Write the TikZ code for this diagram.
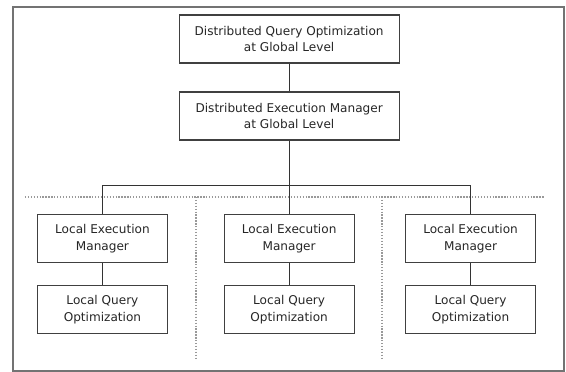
\documentclass[tikz,border=0pt]{standalone}
\usepackage{fontspec}
\setmainfont{DejaVu Sans}
\usetikzlibrary{positioning}

\begin{document}
\begin{tikzpicture}[
  box/.style={rectangle, draw=black!75, line width=0.9pt, fill=white, align=center,
    minimum width=3.44cm, minimum height=1.27cm, inner sep=2pt, text=black!85,
    font=\fontsize{9.1}{12.6}\selectfont},
  gbox/.style={box, minimum width=5.82cm},
  link/.style={draw=black!80, line width=0.8pt},
  sep/.style={draw=black!40, line width=1.2pt, dash pattern=on 1pt off 1.2pt}
]
  \useasboundingbox (0,0) rectangle (14.975,-9.842);
  % outer frame
  \draw[black!55, line width=1.3pt] (0.34,-0.19) rectangle (14.92,-9.81);

  % separators between sites
  \draw[sep] (0.66,-5.21) -- (14.42,-5.21);
  \draw[sep] (5.19,-5.21) -- (5.19,-9.47);
  \draw[sep] (10.11,-5.21) -- (10.11,-9.47);

  % global level
  \node[gbox] (dqo) at (7.65,-1.03) {Distributed Query Optimization\\at Global Level};
  \node[gbox] (dem) at (7.65,-3.07) {Distributed Execution Manager\\at Global Level};

  % local sites
  \node[box] (lem1) at (2.71,-6.32) {Local Execution\\Manager};
  \node[box] (lem2) at (7.65,-6.32) {Local Execution\\Manager};
  \node[box] (lem3) at (12.45,-6.32) {Local Execution\\Manager};

  \node[box] (lqo1) at (2.71,-8.19) {Local Query\\Optimization};
  \node[box] (lqo2) at (7.65,-8.19) {Local Query\\Optimization};
  \node[box] (lqo3) at (12.45,-8.19) {Local Query\\Optimization};

  \coordinate (bus) at (7.65,-4.9);

  \draw[link] (dqo) -- (dem);
  \draw[link] (dem) -- (lem2);
  \draw[link] (lem1.north) -- (lem1.north |- bus) -- (lem3.north |- bus) -- (lem3.north);
  \foreach \i in {1,2,3}
    \draw[link] (lem\i) -- (lqo\i);
\end{tikzpicture}
\end{document}
